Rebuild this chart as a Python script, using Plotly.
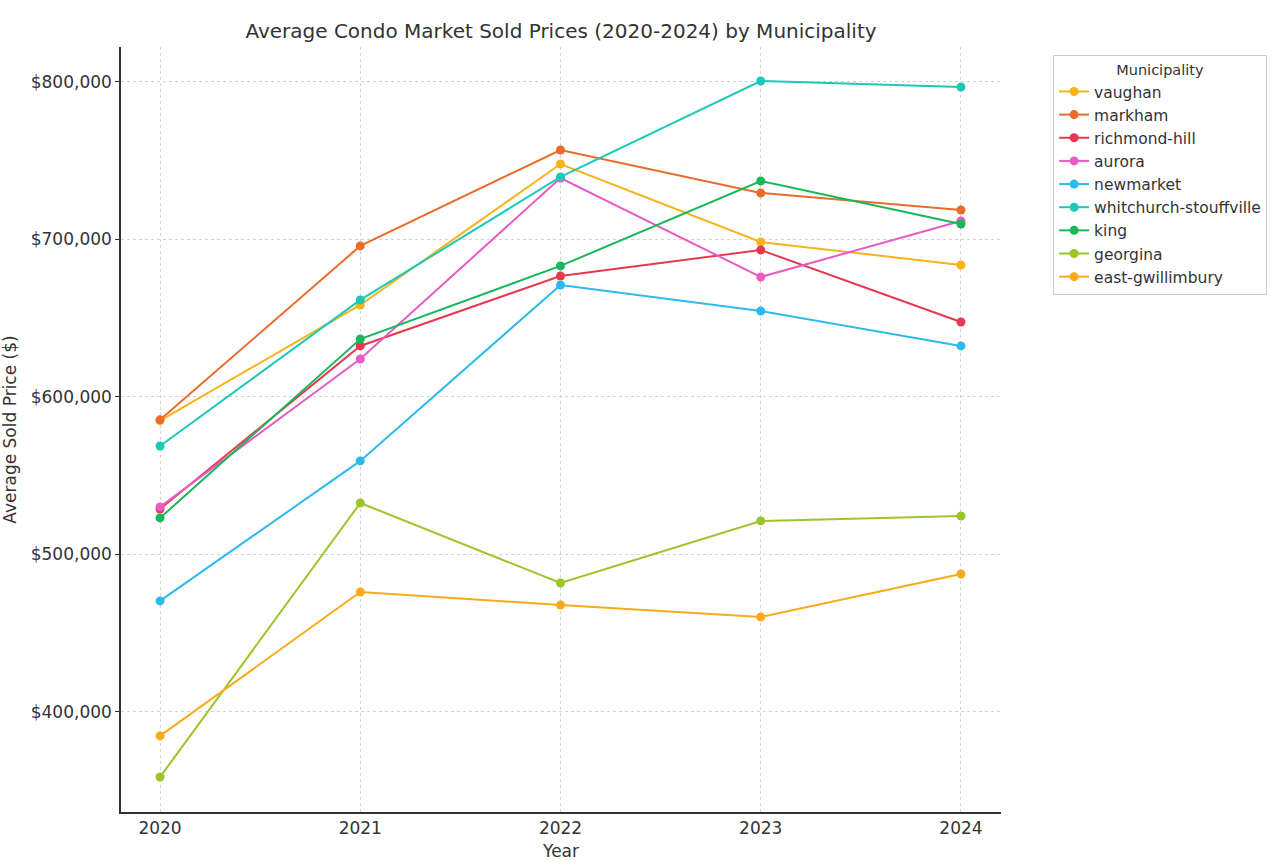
import plotly.graph_objects as go

years = [2020, 2021, 2022, 2023, 2024]
municipalities = ["vaughan", "markham", "richmond-hill", "aurora", "newmarket",
                  "whitchurch-stouffville", "king", "georgina", "east-gwillimbury"]
vaughan = [585000, 658400, 747900, 698400, 683800]
markham = [585500, 695900, 756800, 729500, 718700]
richmond_hill = [528900, 632400, 676800, 693300, 647600]
aurora = [530200, 624100, 739000, 676200, 711700]
newmarket = [470500, 559400, 671100, 654600, 632400]
whitchurch_stouffville = [568900, 661600, 739700, 800600, 796800]
king = [523200, 636800, 683200, 737100, 709800]
georgina = [358700, 532700, 481900, 521300, 524400]
east_gwillimbury = [384800, 476200, 467900, 460300, 487600]
series = [vaughan, markham, richmond_hill, aurora, newmarket,
          whitchurch_stouffville, king, georgina, east_gwillimbury]
colors = ["#F8B31B", "#EB6B2B", "#E63950", "#EA5BC3", "#2DB9EC",
          "#1CC9B7", "#17B85A", "#9CC52A", "#F9AA1B"]
ytick_vals = [400000, 500000, 600000, 700000, 800000]
ytick_text = ["$400,000", "$500,000", "$600,000", "$700,000", "$800,000"]

fig = go.Figure()
for name, vals, c in zip(municipalities, series, colors):
    fig.add_trace(go.Scatter(x=years, y=vals, mode="lines+markers", name=name,
                             line=dict(color=c, width=2),
                             marker=dict(color=c, size=9)))

font = "DejaVu Sans, sans-serif"
fig.update_layout(
    width=1278, height=861,
    margin=dict(l=121, r=276, t=47, b=49),
    paper_bgcolor="white", plot_bgcolor="white",
    font=dict(family=font, color="#333333", size=16),
    title=dict(text="Average Condo Market Sold Prices (2020-2024) by Municipality",
               x=561 / 1278, xanchor="center", y=1 - 31 / 861, yanchor="middle",
               font=dict(size=20, color="#333333")),
    legend=dict(title=dict(text="Municipality", side="top center", font=dict(size=14.5, color="#333333")),
                x=1.058, xanchor="left", y=0.9895, yanchor="top",
                bordercolor="#cccccc", borderwidth=1, bgcolor="white",
                font=dict(size=15.5, color="#333333"), tracegroupgap=0),
    showlegend=True,
)
fig.update_xaxes(range=[2019.805, 2024.2], tickvals=years, ticktext=[str(y) for y in years],
                 showgrid=True, gridcolor="#d3d3d3", griddash="3px,3px", gridwidth=1,
                 showline=True, linecolor="#333333", linewidth=1.5,
                 ticks="",
                 zeroline=False, automargin=False,
                 title=dict(text="Year", standoff=11, font=dict(size=17)),
                 tickfont=dict(size=17))
fig.update_yaxes(range=[336500, 822200], tickvals=ytick_vals, ticktext=ytick_text,
                 showgrid=True, gridcolor="#d3d3d3", griddash="3px,3px", gridwidth=1,
                 showline=True, linecolor="#333333", linewidth=1.5,
                 ticks="outside", ticklen=4, tickcolor="#333333",
                 zeroline=False, automargin=False,
                 title=dict(text="Average Sold Price ($)", standoff=10, font=dict(size=17)),
                 tickfont=dict(size=17))

fig.write_html("out.html")
